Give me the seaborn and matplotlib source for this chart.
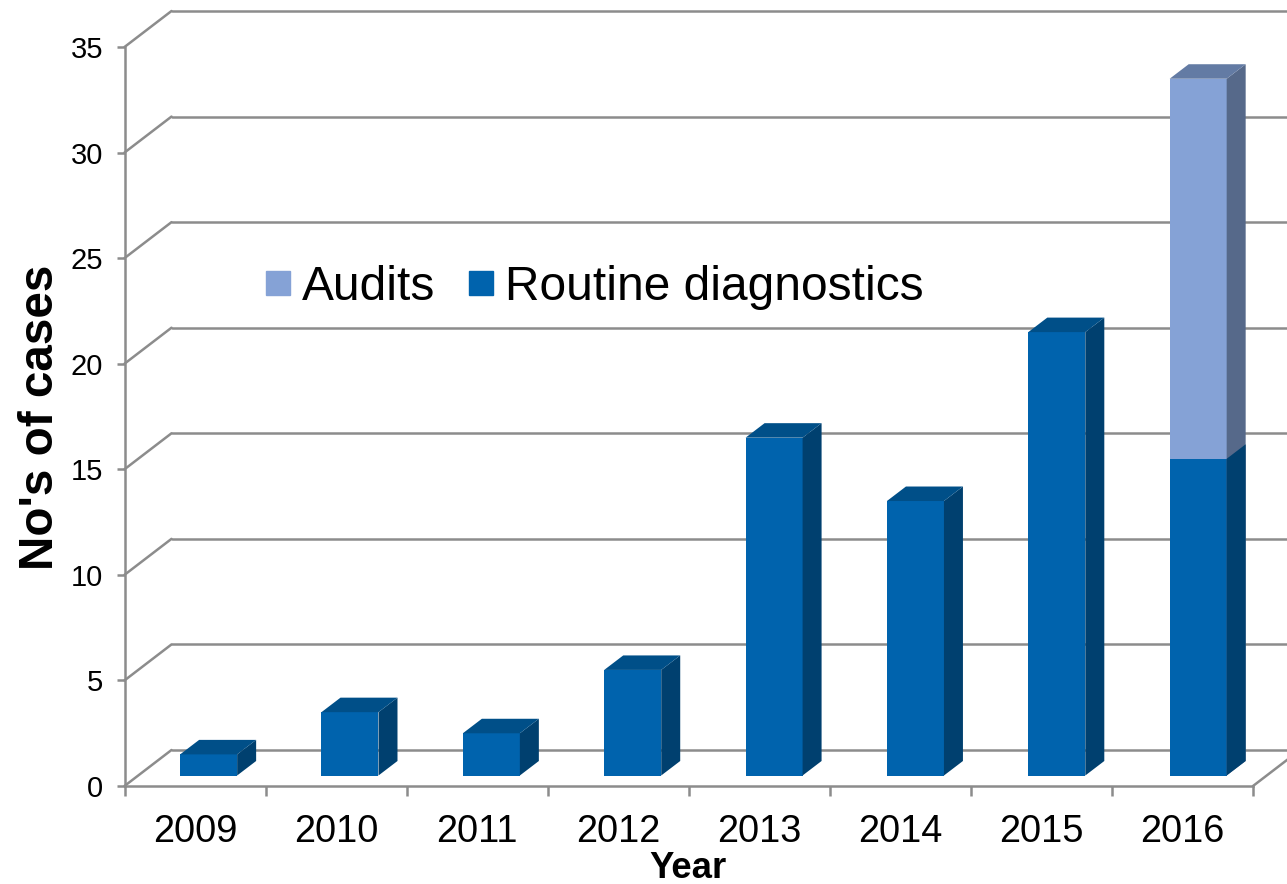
import pandas as pd
import seaborn as sns
import matplotlib.pyplot as plt

# Values
years = ['2009', '2010', '2011', '2012', '2013', '2014', '2015', '2016']
routine = [1, 3, 2, 5, 16, 13, 21, 15]
audits = [0, 0, 0, 0, 0, 0, 0, 18]
y_ticks = [0, 5, 10, 15, 20, 25, 30, 35]

grid_col = '#8c8c8c'
routine_cols = ('#0063ad', '#004f88', '#00406f')  # front, top, side
audit_cols = ('#85a2d6', '#637ba4', '#56698a')

sns.set_style('white')
plt.rcParams['font.family'] = ['Liberation Sans', 'DejaVu Sans']
plt.rcParams['text.color'] = 'black'

W, H = 1287, 884
fig = plt.figure(figsize=(W / 100, H / 100), dpi=100)
ax = fig.add_axes([124.5 / W, (H - 786) / H, 1128.5 / W, 739 / H])
x_min, x_max, y_max = -0.5, 7.5, 35
px_x = (x_max - x_min) / 1128.5
px_y = y_max / 739

df = pd.DataFrame({'Year': years, 'routine': routine, 'audits': audits})
df['total'] = df['routine'] + df['audits']

# Bars stand a little way into the floor of the fake 3D box
lift = 10.5 * px_y
shift = 13.6 * px_x
step = 0.3 * px_x
bar_w = 57 * px_x

sns.barplot(data=df[df['audits'] > 0], x='Year', y='total', order=years, color=audit_cols[0],
            saturation=1, width=bar_w, bottom=lift, linewidth=0, ax=ax)
n_audit = len(ax.patches)
sns.barplot(data=df, x='Year', y='routine', order=years, color=routine_cols[0],
            saturation=1, width=bar_w, bottom=lift, linewidth=0, ax=ax)
audit_bars = list(ax.patches[:n_audit])
routine_bars = list(ax.patches[n_audit:])


def add_depth(bar, cols, with_top):
    # the original bars drift slightly to the right of the category centres
    idx = round(bar.get_x() + bar.get_width() / 2)
    bar.set_x(bar.get_x() + shift + idx * step)
    x0 = bar.get_x()
    x1 = x0 + bar.get_width()
    y0 = bar.get_y()
    y1 = y0 + bar.get_height()
    dx = 19 * px_x
    dy = 14.5 * px_y
    ax.fill([x1, x1 + dx, x1 + dx, x1], [y0, y0 + dy, y1 + dy, y1], color=cols[2], lw=0, clip_on=False)
    if with_top:
        ax.fill([x0, x1, x1 + dx, x0 + dx], [y1, y1, y1 + dy, y1 + dy], color=cols[1], lw=0, clip_on=False)


for bar in audit_bars:
    add_depth(bar, audit_cols, True)
for bar, a in zip(routine_bars, audits):
    add_depth(bar, routine_cols, a == 0)

# Back wall and the diagonals running to it
wall_x = 47 * px_x
wall_y = 36 * px_y
for v in y_ticks:
    ax.plot([x_min, x_min + wall_x], [v, v + wall_y], color=grid_col, lw=1.8, clip_on=False, zorder=0.5)
    ax.plot([x_min + wall_x, x_max + wall_x], [v + wall_y, v + wall_y], color=grid_col, lw=1.8,
            clip_on=False, zorder=0.5)
ax.plot([x_max, x_max + wall_x], [0, wall_y], color=grid_col, lw=1.8, clip_on=False, zorder=0.5)

ax.set_xlim(x_min, x_max)
ax.set_ylim(0, y_max)
ax.set_yticks(y_ticks)
ax.set_xticks([i - 0.5 for i in range(len(years) + 1)])
ax.set_xticklabels([])
ax.set_xticks(range(len(years)), labels=years, minor=True)
ax.tick_params(axis='x', which='major', length=7.5, width=1.8, color=grid_col, bottom=True)
ax.tick_params(axis='x', which='minor', length=0, labelsize=27.4, pad=20.5, labelcolor='black', bottom=False)
ax.tick_params(axis='y', length=5.5, width=1.8, color=grid_col, left=True, labelsize=21, pad=10,
               labelcolor='black')
sns.despine(ax=ax)
for side in ['left', 'bottom']:
    ax.spines[side].set_color(grid_col)
    ax.spines[side].set_linewidth(1.8)
ax.patch.set_alpha(0)

ax.set_xlabel('')
ax.set_ylabel('')
fig.text(688 / W, 1 - 868 / H, 'Year', fontsize=26.3, fontweight='bold', ha='center', va='center')
fig.text(41 / W, 1 - 417 / H, "No's of cases", fontsize=34.3, fontweight='bold', rotation=90,
         ha='center', va='center')

legend_handles = [plt.Rectangle((0, 0), 1, 1, color=audit_cols[0]),
                  plt.Rectangle((0, 0), 1, 1, color=routine_cols[0])]
ax.legend(legend_handles, ['Audits', 'Routine diagnostics'], ncol=2, frameon=False, fontsize=34.5,
          loc='center left', bbox_to_anchor=(266 / W, 1 - 288 / H), bbox_transform=fig.transFigure,
          borderpad=0, borderaxespad=0, handlelength=0.5, handleheight=0.392, handletextpad=0.25,
          columnspacing=0.7)

fig.savefig('out.png', dpi=100)
